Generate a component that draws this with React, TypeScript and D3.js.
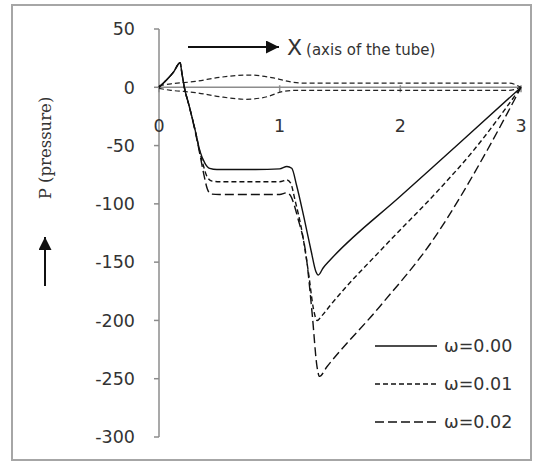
import React, { useEffect, useRef } from "react";
import * as d3 from "d3";

// pressure along the tube, [x, P]
const omega000 = [
  [0, 0], [0.06, 6], [0.12, 13], [0.175, 21], [0.19, 12], [0.21, 0], [0.25, -16],
  [0.3, -37], [0.34, -55], [0.38, -65], [0.42, -69.5], [0.48, -70.5], [0.8, -70.5],
  [1.0, -70], [1.06, -68], [1.1, -69.5], [1.14, -84], [1.2, -111], [1.26, -140],
  [1.3, -158], [1.32, -161], [1.36, -155], [1.42, -148], [2.0, -93.5], [2.5, -47], [3, 0]
];
const omega001 = [
  [0, 0], [0.06, 6], [0.12, 13], [0.175, 21], [0.19, 12], [0.21, 0], [0.25, -16],
  [0.3, -37], [0.34, -56], [0.37, -68], [0.4, -77], [0.44, -80.5], [0.5, -81], [1.0, -81],
  [1.06, -79.5], [1.09, -82], [1.13, -98], [1.18, -121], [1.24, -160], [1.28, -190],
  [1.31, -200], [1.35, -196], [1.42, -187], [1.9, -133], [2.3, -90], [2.6, -55], [3, 0]
];
const omega002 = [
  [0, 0], [0.06, 6], [0.12, 13], [0.175, 21], [0.19, 12], [0.21, 0], [0.25, -16],
  [0.3, -38], [0.34, -58], [0.37, -74], [0.4, -87], [0.43, -91.5], [0.5, -92], [1.0, -92],
  [1.06, -90.5], [1.09, -93], [1.15, -112], [1.22, -145], [1.27, -195], [1.31, -240],
  [1.33, -248], [1.39, -240], [1.83, -188], [2.27, -131], [2.72, -54], [3, 0]
];
// tube wall (scaled)
const wallUpper = [
  [0, 1.5], [0.1, 3], [0.3, 5], [0.5, 8.5], [0.75, 10.5], [0.95, 8], [1.1, 4.5],
  [1.2, 3.5], [2.9, 3.5], [3, 0]
];
const wallLower = [
  [0, -1], [0.1, -2.6], [0.3, -4.5], [0.5, -8], [0.72, -10.3], [0.9, -8], [1.03, -3.5],
  [1.15, -2.6], [2.9, -2.6], [3, 0]
];

const xTicks = [0, 1, 2, 3];
const yTicks = [50, 0, -50, -100, -150, -200, -250, -300];
const legendLabels = ["ω=0.00", "ω=0.01", "ω=0.02"];
const dashes = [null, "5,3", "9,4"];

const W = 534;
const H = 463;

const App = () => {
  const ref = useRef(null);

  useEffect(() => {
    const svg = d3.select(ref.current);
    svg.selectAll("*").remove();

    const x = d3.scaleLinear().domain([0, 3]).range([159, 521]);
    const y = d3.scaleLinear().domain([-300, 50]).range([437, 29]);
    const font = "'DejaVu Sans', sans-serif";
    const axisGrey = "#8c8c8c";

    // outer frame
    svg.append("rect")
      .attr("x", 12).attr("y", 5)
      .attr("width", 519).attr("height", 455)
      .attr("fill", "white")
      .attr("stroke", "#a6a6a6")
      .attr("stroke-width", 2);

    // y axis
    svg.append("line")
      .attr("x1", x(0)).attr("x2", x(0))
      .attr("y1", y(50)).attr("y2", y(-300))
      .attr("stroke", axisGrey).attr("stroke-width", 1.5);
    svg.selectAll(".ytick")
      .data(yTicks)
      .enter()
      .append("line")
      .attr("x1", x(0) - 5).attr("x2", x(0))
      .attr("y1", d => y(d)).attr("y2", d => y(d))
      .attr("stroke", axisGrey).attr("stroke-width", 1.5);
    svg.selectAll(".ylab")
      .data(yTicks)
      .enter()
      .append("text")
      .attr("x", 135)
      .attr("y", d => y(d))
      .attr("dy", "0.36em")
      .attr("text-anchor", "end")
      .style("font-family", font)
      .style("font-size", "17.5px")
      .attr("fill", "#333")
      .text(d => d);

    // x axis at P = 0
    svg.append("line")
      .attr("x1", x(0)).attr("x2", x(3))
      .attr("y1", y(0)).attr("y2", y(0))
      .attr("stroke", axisGrey).attr("stroke-width", 1.5);
    svg.selectAll(".xtick")
      .data(xTicks)
      .enter()
      .append("line")
      .attr("x1", d => x(d)).attr("x2", d => x(d))
      .attr("y1", y(0) - 2).attr("y2", y(0) + 5)
      .attr("stroke", axisGrey).attr("stroke-width", 1.5);
    svg.selectAll(".xlab")
      .data(xTicks)
      .enter()
      .append("text")
      .attr("x", d => x(d))
      .attr("y", 132)
      .attr("text-anchor", "middle")
      .style("font-family", font)
      .style("font-size", "17.5px")
      .attr("fill", "#333")
      .text(d => d);

    const line = d3.line()
      .x(d => x(d[0]))
      .y(d => y(d[1]))
      .curve(d3.curveMonotoneX);

    // walls
    [wallUpper, wallLower].forEach(w => {
      svg.append("path")
        .attr("d", line(w))
        .attr("fill", "none")
        .attr("stroke", "#222")
        .attr("stroke-width", 1.2)
        .attr("stroke-dasharray", "5,3");
    });

    // pressure curves
    [omega000, omega001, omega002].forEach((s, i) => {
      svg.append("path")
        .attr("d", line(s))
        .attr("fill", "none")
        .attr("stroke", "#111")
        .attr("stroke-width", 1.4)
        .attr("stroke-dasharray", dashes[i]);
    });

    // legend
    legendLabels.forEach((l, i) => {
      const ly = 346 + i * 38;
      svg.append("line")
        .attr("x1", 375).attr("x2", 437)
        .attr("y1", ly).attr("y2", ly)
        .attr("stroke", "#111")
        .attr("stroke-width", 1.4)
        .attr("stroke-dasharray", dashes[i]);
      svg.append("text")
        .attr("x", 444).attr("y", ly)
        .attr("dy", "0.36em")
        .style("font-family", font)
        .style("font-size", "17.5px")
        .attr("fill", "#333")
        .text(l);
    });

    // arrow markers
    svg.append("defs")
      .append("marker")
      .attr("id", "head")
      .attr("viewBox", "0 0 10 10")
      .attr("refX", 10).attr("refY", 5)
      .attr("markerUnits", "userSpaceOnUse")
      .attr("markerWidth", 14).attr("markerHeight", 13)
      .attr("orient", "auto")
      .append("path")
      .attr("d", "M0,0L10,5L0,10Z")
      .attr("fill", "#111");

    // X arrow + label
    svg.append("line")
      .attr("x1", 188).attr("x2", 279)
      .attr("y1", 47).attr("y2", 47)
      .attr("stroke", "#111").attr("stroke-width", 2)
      .attr("marker-end", "url(#head)");
    const xt = svg.append("text")
      .attr("x", 287).attr("y", 55)
      .style("font-family", font)
      .attr("fill", "#333");
    xt.append("tspan").style("font-size", "22px").text("X");
    xt.append("tspan").style("font-size", "15px").attr("dx", 4).text("(axis of the tube)");

    // P arrow + label
    svg.append("line")
      .attr("x1", 45).attr("x2", 45)
      .attr("y1", 286).attr("y2", 237)
      .attr("stroke", "#111").attr("stroke-width", 2)
      .attr("marker-end", "url(#head)");
    svg.append("text")
      .attr("transform", "translate(51,148) rotate(-90)")
      .attr("text-anchor", "middle")
      .style("font-family", "'DejaVu Serif', serif")
      .style("font-size", "16.5px")
      .attr("fill", "#333")
      .text("P (pressure)");
  }, []);

  return (
    <svg
      ref={ref}
      width={W}
      height={H}
      style={{ position: "absolute", left: 0, top: 0, background: "white" }}
    />
  );
};

export default App;
